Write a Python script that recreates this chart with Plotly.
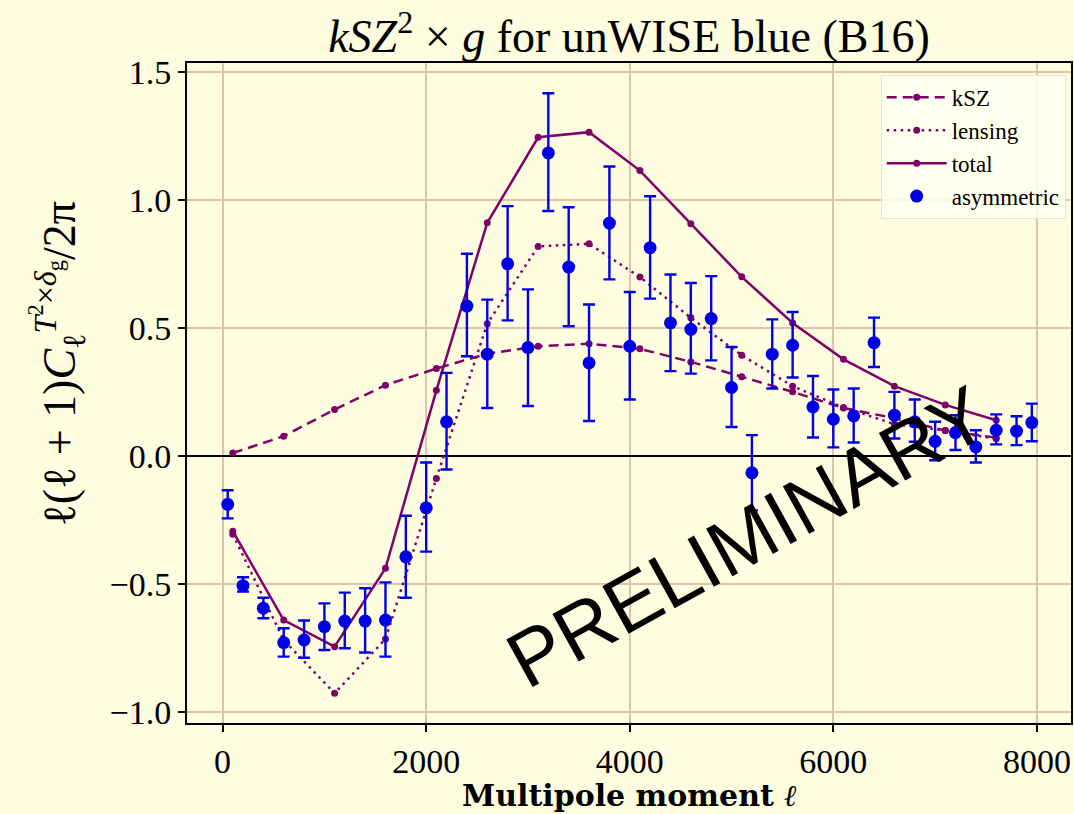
import plotly.graph_objects as go

# Theory curves, sampled every 500 in multipole
ell_theory = [100, 600, 1100, 1600, 2100, 2600, 3100, 3600, 4100, 4600,
              5100, 5600, 6100, 6600, 7100, 7600]
ksz = [0.012, 0.078, 0.182, 0.277, 0.342, 0.400, 0.429, 0.439, 0.419, 0.368,
       0.310, 0.251, 0.188, 0.148, 0.100, 0.072]
lensing = [-0.305, -0.718, -0.926, -0.714, -0.087, 0.517, 0.819, 0.829, 0.699, 0.540,
           0.394, 0.273, 0.190, 0.125, 0.100, 0.068]
total = [-0.293, -0.640, -0.744, -0.438, 0.257, 0.911, 1.245, 1.265, 1.115, 0.907,
         0.700, 0.520, 0.378, 0.273, 0.200, 0.140]

# Measured bandpowers with asymmetric errors
ell_data = [50, 200, 400, 600, 800, 1000, 1200, 1400, 1600, 1800, 2000, 2200,
            2400, 2600, 2800, 3000, 3200, 3400, 3600, 3800, 4000, 4200, 4400,
            4600, 4800, 5000, 5200, 5400, 5600, 5800, 6000, 6200, 6400, 6600,
            6800, 7000, 7200, 7400, 7600, 7800, 7950]
cl_data = [-0.188, -0.506, -0.594, -0.728, -0.718, -0.666, -0.644, -0.644, -0.640,
           -0.393, -0.202, 0.134, 0.586, 0.398, 0.751, 0.424, 1.184, 0.738, 0.364,
           0.910, 0.429, 0.814, 0.520, 0.495, 0.537, 0.268, -0.065, 0.398, 0.433,
           0.192, 0.144, 0.157, 0.443, 0.160, 0.134, 0.058, 0.092, 0.036, 0.101,
           0.098, 0.131]
err_hi = [0.055, 0.033, 0.041, 0.056, 0.076, 0.091, 0.111, 0.128, 0.147, 0.160,
          0.177, 0.191, 0.204, 0.213, 0.225, 0.227, 0.233, 0.234, 0.228, 0.221,
          0.212, 0.201, 0.189, 0.181, 0.166, 0.158, 0.147, 0.136, 0.130, 0.121,
          0.116, 0.107, 0.098, 0.091, 0.087, 0.076, 0.068, 0.065, 0.062, 0.058,
          0.074]
err_lo = [0.055, 0.023, 0.039, 0.055, 0.069, 0.091, 0.106, 0.123, 0.143, 0.160,
          0.171, 0.186, 0.196, 0.210, 0.221, 0.228, 0.227, 0.231, 0.227, 0.220,
          0.208, 0.199, 0.188, 0.173, 0.163, 0.154, 0.147, 0.134, 0.126, 0.119,
          0.110, 0.104, 0.095, 0.091, 0.078, 0.074, 0.068, 0.061, 0.055, 0.055,
          0.073]

x_ticks = [0, 2000, 4000, 6000, 8000]
y_ticks = [-1.0, -0.5, 0.0, 0.5, 1.0, 1.5]

theory_color = "#80006a"
data_color = "#0000e6"
bg = "#fffde0"
grid = "#dcc5ae"
serif = "Liberation Serif"

fig = go.Figure()

for name, vals, dash in [("kSZ", ksz, "10px,6px"),
                         ("lensing", lensing, "2.5px,4.5px"),
                         ("total", total, "solid")]:
    fig.add_trace(go.Scatter(
        x=ell_theory, y=vals, name=name, mode="lines+markers",
        line=dict(color=theory_color, width=2.5, dash=dash),
        marker=dict(color=theory_color, size=7),
    ))

fig.add_trace(go.Scatter(
    x=ell_data, y=cl_data, name="asymmetric", mode="markers",
    marker=dict(color=data_color, size=13),
    error_y=dict(type="data", symmetric=False, array=err_hi, arrayminus=err_lo,
                 color=data_color, thickness=2.4, width=6),
))

axis_common = dict(
    showline=True, mirror=True, linecolor="black", linewidth=2,
    ticks="outside", ticklen=7, tickwidth=1.5, tickcolor="black",
    showgrid=True, gridcolor=grid, gridwidth=1.5,
    tickfont=dict(family=serif, size=34, color="black"),
)

fig.update_xaxes(range=[-350, 8335], tickvals=x_ticks,
                 ticktext=[str(v) for v in x_ticks], zeroline=False,
                 **axis_common)
fig.update_yaxes(range=[-1.042, 1.535], tickvals=y_ticks,
                 ticktext=[f"{v:.1f}".replace("-", "\u2212") for v in y_ticks],
                 zeroline=True, zerolinecolor="black", zerolinewidth=2.2,
                 **axis_common)

fig.update_layout(
    width=1074, height=814,
    margin=dict(l=187, r=1, t=63, b=91),
    paper_bgcolor=bg, plot_bgcolor=bg,
    font=dict(family=serif, color="black"),
    showlegend=True,
    title=dict(
        text="<i>kSZ</i><sup>2</sup> \u00d7 <i>g</i> for unWISE blue (B16)",
        x=0.5, xref="paper", xanchor="center",
        y=1 - 36 / 814, yref="container", yanchor="middle",
        font=dict(family=serif, size=46, color="black"),
    ),
    legend=dict(
        x=0.994, xanchor="right", y=0.982, yanchor="top",
        bgcolor="rgba(255,255,238,0.85)", bordercolor="#ece3cf", borderwidth=1,
        font=dict(family=serif, size=23, color="black"),
        itemwidth=60,
    ),
    annotations=[
        dict(text="<b>Multipole moment <i>\u2113</i></b>", xref="paper", yref="paper",
             x=0.5, y=-0.11, xanchor="center", yanchor="middle", showarrow=False,
             font=dict(family="DejaVu Serif", size=30, color="black")),
        dict(text="\u2113(\u2113 + 1)<i>C</i><sub>\u2113</sub>"
                  "<sup><i>T</i><sup>2</sup>\u00d7<i>\u03b4</i><sub>g</sub></sup>/2\u03c0",
             xref="paper", yref="paper", x=-0.146, y=0.545,
             xanchor="center", yanchor="middle", textangle=-90, showarrow=False,
             font=dict(family=serif, size=46, color="black")),
        dict(text="PRELIMINARY", xref="paper", yref="paper",
             x=0.634, y=0.283, xanchor="center", yanchor="middle",
             textangle=-29, showarrow=False,
             font=dict(family="Liberation Sans", size=79, color="black")),
    ],
)

fig.write_html("out.html")
